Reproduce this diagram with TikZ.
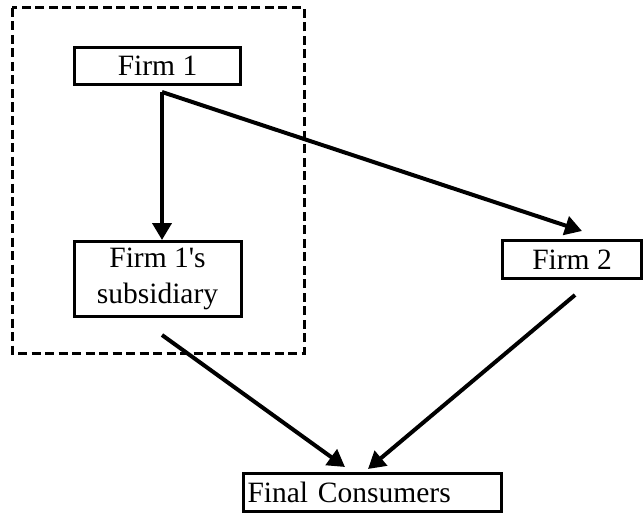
\documentclass[tikz,border=0pt]{standalone}
\usepackage{fontspec}
\newfontfamily\plainserif{Liberation Serif}
\usetikzlibrary{arrows.meta}
\begin{document}
\begin{tikzpicture}[x=1pt,y=-1pt,
  box/.style={draw, line width=3pt, rectangle, inner sep=0pt, font=\plainserif\fontsize{29.5}{36}\selectfont},
  arr/.style={line width=4pt, -{Triangle[length=17pt,width=19pt]}},
  grp/.style={draw, line width=3pt, dash pattern=on 9pt off 4.5pt}]
\useasboundingbox (0,0) rectangle (644,516);
\draw[grp] (12,8) rectangle (304,353);
\node[box, minimum width=166pt, minimum height=37pt] (f1) at (157.5,66) {Firm 1};
\node[box, minimum width=167pt, minimum height=75pt, align=center] (sub) at (157.5,279) {Firm 1's\\subsidiary};
\node[box, minimum width=139pt, minimum height=38pt] (f2) at (572,259.5) {Firm 2};
\node[box, minimum width=258pt, minimum height=38pt, text width=250pt, align=left] (fc) at (372.5,492.5) {Final Consumers};
\coordinate (split) at (162,92);
\coordinate (subtop) at (162,240);
\coordinate (f2top) at (582,231);
\coordinate (subout) at (162,335);
\coordinate (f2out) at (575,295);
\coordinate (fcl) at (345,467);
\coordinate (fcr) at (368,469);
\draw[arr] (split) -- (subtop);
\draw[arr] (split) -- (f2top);
\draw[arr] (subout) -- (fcl);
\draw[arr] (f2out) -- (fcr);
\end{tikzpicture}
\end{document}
